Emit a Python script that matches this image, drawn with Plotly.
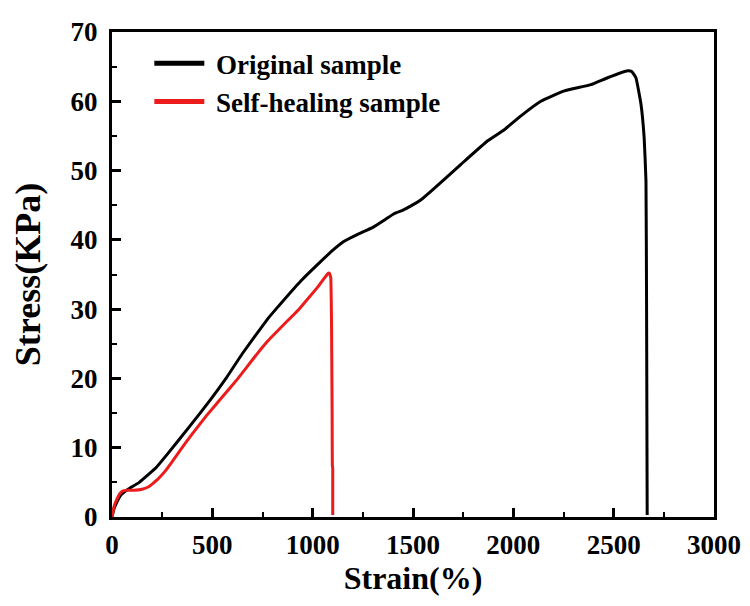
import plotly.graph_objects as go

# Original sample (strain %, stress KPa)
orig_strain = [0, 10, 25, 45, 80, 136, 219, 274, 385, 493, 568, 650, 776, 817, 942, 1041,
               1108, 1157, 1224, 1300, 1360, 1407, 1450, 1490, 1540, 1589, 1739, 1872, 1955, 2038,
               2137, 2254, 2387, 2470, 2570, 2590, 2611, 2636, 2652, 2661,
               2664, 2666, 2667]
orig_stress = [0, 1.2, 2.2, 3.2, 4.0, 5.0, 7.1, 9.0, 13.0, 17.0, 20.0, 23.6, 28.6, 30.0, 34.1, 36.9,
               38.7, 39.8, 40.8, 41.8, 42.9, 43.8, 44.3, 44.9, 45.8, 47.0, 50.9, 54.3, 55.9, 57.9,
               60.0, 61.5, 62.4, 63.4, 64.4, 64.3, 63.4, 59.6, 54.7, 48.5,
               30.0, 10.0, 0.3]

# Self-healing sample
heal_strain = [0, 10, 25, 40, 53, 75, 110, 150, 185, 230, 270, 300, 344, 400, 470, 543, 628, 700, 776,
               860, 932, 1020, 1075, 1083, 1090, 1094, 1097, 1098, 1100, 1100]
heal_stress = [0, 1.5, 2.6, 3.4, 3.75, 3.85, 3.85, 4.0, 4.4, 5.5, 6.8, 8.0, 9.8, 12.0, 14.6, 17.1, 20.0, 22.7, 25.4,
               27.9, 30.0, 33.0, 35.1, 35.2, 34.6, 28.0, 15.0, 7.5, 7.0, 0.3]

x_ticks = [0, 500, 1000, 1500, 2000, 2500, 3000]
y_ticks = [0, 10, 20, 30, 40, 50, 60, 70]

FONT = "Liberation Serif"

fig = go.Figure()
fig.add_trace(go.Scatter(x=orig_strain, y=orig_stress, mode="lines", name="<b> Original sample</b>",
                         line=dict(color="black", width=3, shape="spline", smoothing=0.3)))
fig.add_trace(go.Scatter(x=heal_strain, y=heal_stress, mode="lines", name="<b> Self-healing sample</b>",
                         line=dict(color="#ec1c1c", width=3, shape="spline", smoothing=0.2)))

axis_common = dict(
    showgrid=False, zeroline=False, showline=True, linecolor="black", linewidth=3,
    mirror=True, ticks="inside", ticklen=9, tickwidth=3, tickcolor="black",
    tickfont=dict(family=FONT, size=27, color="black"), automargin=False,
)

fig.update_layout(
    width=750, height=606,
    margin=dict(l=104, r=44, t=24, b=97),
    paper_bgcolor="white", plot_bgcolor="white",
    font=dict(family=FONT, color="black"),
    showlegend=True,
    legend=dict(x=0.062, y=0.985, xanchor="left", yanchor="top", bgcolor="rgba(0,0,0,0)",
                font=dict(family=FONT, size=27, color="black"), itemwidth=50,
                tracegroupgap=0, itemsizing="constant"),
    xaxis=dict(range=[0, 3000], tickvals=x_ticks, ticktext=[f"<b>{v}</b>" for v in x_ticks],
               title=dict(text="<b>Strain(%)</b>", font=dict(family=FONT, size=32, color="black"), standoff=6),
               minor=dict(dtick=250, ticks="inside", ticklen=5, tickwidth=2, tickcolor="black"),
               ticklabelstandoff=2, **axis_common),
    yaxis=dict(range=[0, 70], tickvals=y_ticks, ticktext=[f"<b>{v}</b>" for v in y_ticks],
               title=dict(text="<b>Stress(KPa)</b>", font=dict(family=FONT, size=36, color="black"), standoff=20),
               minor=dict(dtick=5, ticks="inside", ticklen=5, tickwidth=2, tickcolor="black"),
               ticklabelstandoff=6, **axis_common),
)

fig.write_html("out.html")
